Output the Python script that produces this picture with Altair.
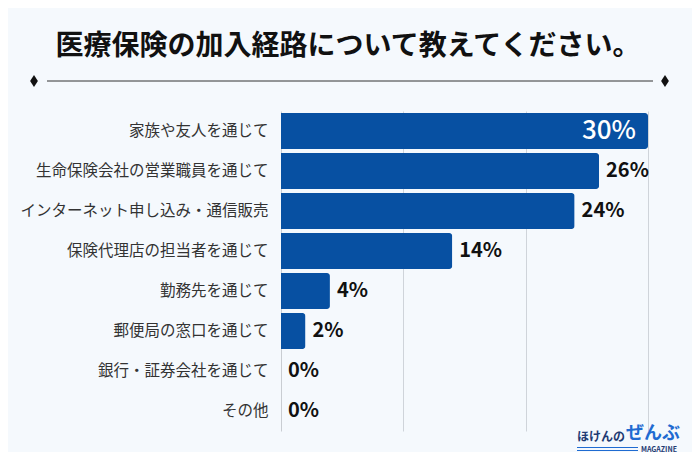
import altair as alt
import pandas as pd

# ---- data ----
categories = [
    "家族や友人を通じて",
    "生命保険会社の営業職員を通じて",
    "インターネット申し込み・通信販売",
    "保険代理店の担当者を通じて",
    "勤務先を通じて",
    "郵便局の窓口を通じて",
    "銀行・証券会社を通じて",
    "その他",
]
values = [30, 26, 24, 14, 4, 2, 0, 0]
labels = [f"{v}%" for v in values]
title_text = "医療保険の加入経路について教えてください。"
logo_a = "ほけんの"
logo_b = "ぜんぶ"
logo_c = "MAGAZINE"

df = pd.DataFrame({"category": categories, "value": values, "label": labels})

FONT = "Noto Sans CJK JP"
BAR = "#0750A2"
BG = "#F5F9FD"
W, H = 367, 320
X0, Y0 = 281, 111  # page position of plot origin


def px(x):
    return x - X0


def py(y):
    return y - Y0


y_enc = alt.Y(
    "category:N",
    sort=categories,
    title=None,
    scale=alt.Scale(paddingInner=0.1, paddingOuter=0.05),
    axis=alt.Axis(
        labelFont=FONT, labelFontSize=15.5, labelColor="#333333", labelPadding=13,
        labelLimit=400, ticks=False, domain=True, domainColor="#c9cdd2",
        domainWidth=1, grid=False,
    ),
)
x_enc = alt.X(
    "value:Q",
    title=None,
    scale=alt.Scale(domain=[0, 30], nice=False),
    axis=alt.Axis(values=[10, 20, 30], labels=False, ticks=False, domain=False,
                  grid=True, gridColor="#cfd4da", gridWidth=1),
)

base = alt.Chart(df)
bars = base.mark_bar(color=BAR, cornerRadiusEnd=3).encode(y=y_enc, x=x_enc)

outside = base.transform_filter("datum.value < 30").mark_text(
    align="left", baseline="middle", dx=7, font=FONT, fontSize=20,
    fontWeight="bold", color="#111111",
).encode(y=alt.Y("category:N", sort=categories), x="value:Q", text="label:N")

inside = base.transform_filter("datum.value >= 30").mark_text(
    align="right", baseline="middle", dx=-12, font=FONT, fontSize=26,
    fontWeight=500, color="white",
).encode(y=alt.Y("category:N", sort=categories), x="value:Q", text="label:N")

one = pd.DataFrame({"t": [title_text]})
title = alt.Chart(one).mark_text(
    align="center", baseline="middle", font=FONT, fontSize=28, fontWeight="bold",
    color="#111111",
).encode(x=alt.value(px(348)), y=alt.value(py(47)), text="t:N")

divider = alt.Chart(one).mark_rule(color="#333333", strokeWidth=1).encode(
    x=alt.value(px(47)), x2=alt.value(px(653)), y=alt.value(py(81))
)
diamond_shape = "M0,-1L0.65,0L0,1L-0.65,0Z"
dia_l = alt.Chart(one).mark_point(shape=diamond_shape, filled=True, color="#111111",
                                  size=144, opacity=1).encode(
    x=alt.value(px(34)), y=alt.value(py(81)))
dia_r = alt.Chart(one).mark_point(shape=diamond_shape, filled=True, color="#111111",
                                  size=144, opacity=1).encode(
    x=alt.value(px(665)), y=alt.value(py(81)))

logo1 = alt.Chart(pd.DataFrame({"t": [logo_a]})).mark_text(
    align="left", baseline="middle", font=FONT, fontSize=12, fontWeight="bold",
    color="#1F3B73",
).encode(x=alt.value(px(577)), y=alt.value(py(437)), text="t:N")
logo2 = alt.Chart(pd.DataFrame({"t": [logo_b]})).mark_text(
    align="left", baseline="middle", font=FONT, fontSize=18, fontWeight="bold",
    color="#1F6BD1",
).encode(x=alt.value(px(626)), y=alt.value(py(434)), text="t:N")
logo3 = alt.Chart(pd.DataFrame({"t": [logo_c]})).mark_text(
    align="left", baseline="middle", font=FONT, fontSize=7, fontWeight="bold",
    color="#1F3B73",
).encode(x=alt.value(px(641)), y=alt.value(py(449.5)), text="t:N")
line1 = alt.Chart(one).mark_rule(color="#1F6BD1", strokeWidth=1).encode(
    x=alt.value(px(577)), x2=alt.value(px(638)), y=alt.value(py(447.5)))
line2 = alt.Chart(one).mark_rule(color="#1F6BD1", strokeWidth=1).encode(
    x=alt.value(px(577)), x2=alt.value(px(638)), y=alt.value(py(450.5)))

chart = alt.layer(
    bars, outside, inside, title, divider, dia_l, dia_r,
    logo1, logo2, logo3, line1, line2,
).properties(
    width=W, height=H,
    autosize=alt.AutoSizeParams(type="none"),
    padding={"left": X0 - 8, "top": Y0 - 8, "right": 700 - 16 - (X0 - 8) - W,
             "bottom": 460 - 16 - (Y0 - 8) - H},
    background=BG,
).configure_view(stroke=None)

chart.save("out.html", embed_options={"renderer": "svg", "actions": False})
